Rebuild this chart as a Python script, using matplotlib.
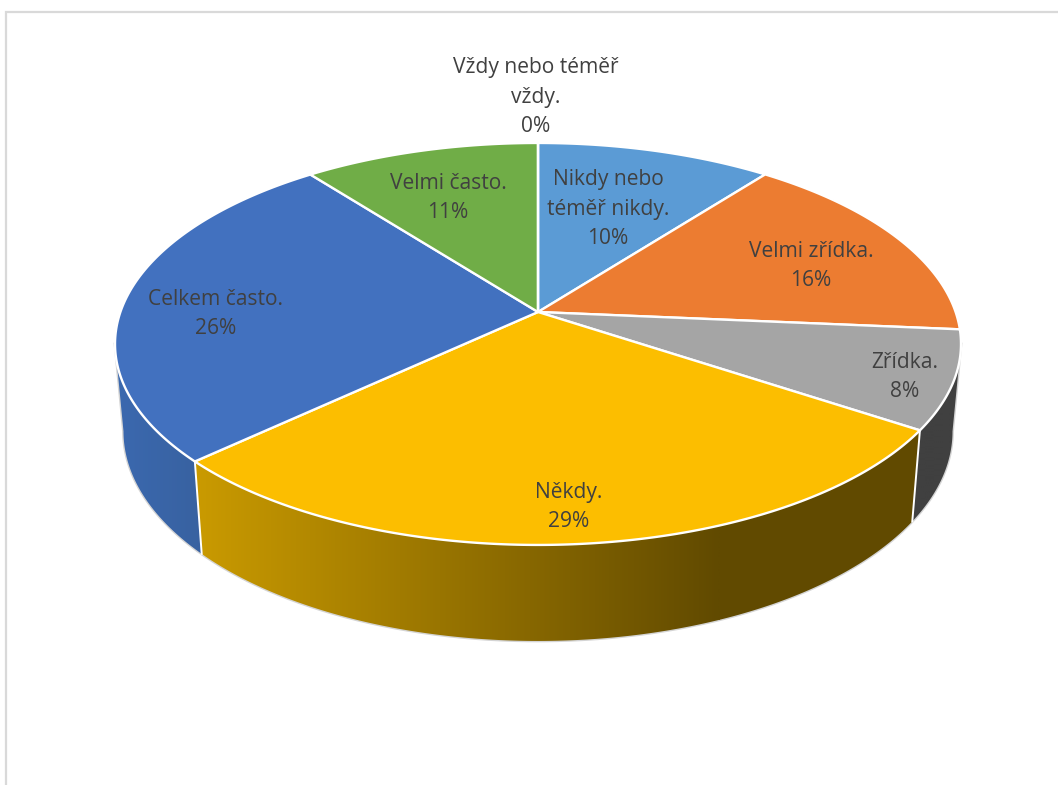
import numpy as np
import matplotlib
matplotlib.use("Agg")
import matplotlib.pyplot as plt
from matplotlib.patches import Polygon
from matplotlib.colors import LinearSegmentedColormap

categories = ["Nikdy nebo\ntéměř nikdy.", "Velmi zřídka.", "Zřídka.", "Někdy.",
              "Celkem často.", "Velmi často.", "Vždy nebo téměř\nvždy."]
values = [10.49, 15.9, 7.9, 28.8, 26.4, 10.51, 0.0]
colors = ["#5B9BD5", "#EC7C31", "#A5A5A5", "#FCBE00", "#4271BF", "#70AD47", "#264478"]
wall_left = ["#3F6C95", "#A65722", "#404040", "#CC9C00", "#3B69B0", "#4E7932", "#1B3054"]
wall_right = ["#3F6C95", "#A65722", "#404040", "#614A00", "#38619F", "#4E7932", "#1B3054"]
label_pos = [(608, 209), (811, 266), (905, 377), (569, 507), (215.5, 314), (448, 198), (536, 97)]

W, H = 1058, 785
CX, CY = 538, 312
A, B, K = 417.6, 195.9, 0.159
FONT = "Open Sans"

fig = plt.figure(figsize=(W / 100, H / 100), dpi=100)
ax = fig.add_axes([0, 0, 1, 1])
ax.set_xlim(0, W)
ax.set_ylim(H, 0)
ax.axis("off")


def top_ring(theta):
    x, y = np.sin(theta), np.cos(theta)
    w = 1 + K * y
    return CX + A * x / w, CY - B * y / w


def bottom_ring(theta):
    X, Y = top_ring(theta)
    off = Y - CY
    return CX + 0.98 * (X - CX), Y + 86 + 0.043 * np.maximum(off, 0)


# frame
ax.plot([1058, 6, 6], [11.5, 11.5, 785], color="#D9D9D9", lw=1.6, solid_joinstyle="miter", zorder=1)

fractions = np.cumsum([0] + values) / sum(values)
edges = 2 * np.pi * fractions
# the wall is visible only between the two silhouette angles of the tilted disc
vis0 = np.arccos(-K)
vis1 = 2 * np.pi - vis0

# outer silhouette of the wall (under the wall fills)
t = np.linspace(vis0, vis1, 400)
bx, by = bottom_ring(t)
tx, ty = top_ring(t)
ax.plot(np.r_[tx[0], bx, tx[-1]], np.r_[ty[0], by, ty[-1]], color="#D4D4D4", lw=2, zorder=1.5)

# side walls
for i in range(len(values)):
    t0, t1 = max(edges[i], vis0), min(edges[i + 1], vis1)
    if t1 <= t0:
        continue
    t = np.linspace(t0, t1, 200)
    tx, ty = top_ring(t)
    bx, by = bottom_ring(t)
    pts = np.column_stack([np.r_[tx, bx[::-1]], np.r_[ty, by[::-1]]])
    cmap = LinearSegmentedColormap.from_list("w", [wall_left[i], wall_right[i]])
    grad = np.linspace(0, 1, 512).reshape(1, -1)
    clip = Polygon(pts, transform=ax.transData)
    if i == 3:
        x0, x1 = 185, 720
        ax.fill_between([x1 - 1, W], 300, 660, color=wall_right[i], zorder=2, lw=0, clip_path=clip)
    elif i == 4:
        x0, x1 = 110, 210
    else:
        x0, x1 = 0, W
    img = ax.imshow(grad, extent=[x0, x1, 660, 300], cmap=cmap,
                    aspect="auto", zorder=2, interpolation="bilinear")
    img.set_clip_path(clip)

# white edges between walls
for e in edges:
    if vis0 < e < vis1:
        xt, yt = top_ring(e)
        xb, yb = bottom_ring(e)
        ax.plot([xt, xb], [yt, yb], color="white", lw=1.4, zorder=3)

# top faces
for i in range(len(values)):
    t = np.linspace(edges[i], edges[i + 1], 200)
    tx, ty = top_ring(t)
    pts = np.column_stack([np.r_[CX, tx], np.r_[CY, ty]])
    ax.add_patch(Polygon(pts, closed=True, fc=colors[i], ec="white", lw=1.7,
                         joinstyle="round", zorder=4))

# labels
for name, v, (lx, ly) in zip(categories, values, label_pos):
    ax.text(lx, ly, f"{name}\n{round(v)}%", ha="center", va="center", fontsize=15.1,
            family=FONT, color="#404040", linespacing=1.55, zorder=6)

ax.set_xlim(0, W)
ax.set_ylim(H, 0)
fig.savefig("out.png", dpi=100)
